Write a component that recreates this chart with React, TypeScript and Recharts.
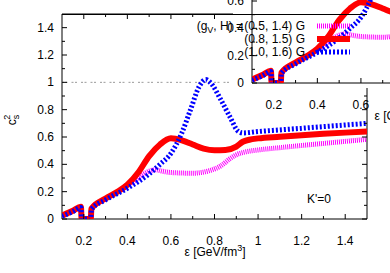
import React from 'react'
import { LineChart, Line, XAxis, YAxis, ReferenceLine, ReferenceArea } from 'recharts'

// energy density (GeV/fm^3) and squared sound speed
const epsMagenta = [0.1, 0.15, 0.187, 0.19, 0.232, 0.235, 0.3, 0.35, 0.4, 0.45, 0.5, 0.53, 0.56, 0.6, 0.7, 0.78, 0.83, 0.87, 0.9, 0.94, 1.0, 1.1, 1.2, 1.3, 1.4, 1.5]
const cs2Magenta = [0.025, 0.06, 0.09, 0, 0, 0.075, 0.15, 0.195, 0.245, 0.3, 0.35, 0.36, 0.35, 0.34, 0.335, 0.355, 0.39, 0.44, 0.47, 0.49, 0.505, 0.522, 0.538, 0.553, 0.568, 0.583]

const epsRed = [0.1, 0.15, 0.187, 0.19, 0.232, 0.235, 0.3, 0.35, 0.4, 0.45, 0.5, 0.55, 0.6, 0.65, 0.7, 0.75, 0.8, 0.85, 0.9, 0.93, 0.96, 1.0, 1.1, 1.2, 1.3, 1.4, 1.5]
const cs2Red = [0.025, 0.06, 0.09, 0, 0, 0.075, 0.15, 0.195, 0.25, 0.34, 0.46, 0.545, 0.59, 0.575, 0.545, 0.515, 0.503, 0.505, 0.53, 0.565, 0.58, 0.59, 0.602, 0.613, 0.623, 0.632, 0.64]

const epsBlue = [0.1, 0.15, 0.187, 0.19, 0.232, 0.235, 0.3, 0.4, 0.5, 0.55, 0.6, 0.65, 0.69, 0.73, 0.76, 0.78, 0.83, 0.87, 0.91, 0.93, 1.0, 1.1, 1.2, 1.3, 1.4, 1.5]
const cs2Blue = [0.02, 0.055, 0.085, 0, 0, 0.07, 0.14, 0.225, 0.33, 0.4, 0.48, 0.63, 0.8, 0.97, 1.02, 1.0, 0.87, 0.75, 0.64, 0.63, 0.64, 0.652, 0.664, 0.676, 0.688, 0.7]

const legendLabels = ['(0.5, 1.4) G', '(0.8, 1.5) G', '(1.0, 1.6) G']

const xTicks = [0.2, 0.3, 0.4, 0.5, 0.6, 0.7, 0.8, 0.9, 1, 1.1, 1.2, 1.3, 1.4]
const xMajor = [0.2, 0.4, 0.6, 0.8, 1, 1.2, 1.4]
const yTicks = [0, 0.1, 0.2, 0.3, 0.4, 0.5, 0.6, 0.7, 0.8, 0.9, 1, 1.1, 1.2, 1.3, 1.4]
const yMajor = [0, 0.2, 0.4, 0.6, 0.8, 1, 1.2, 1.4]

const W = 390
const H = 273
const LEFT = 62
const RIGHT = 367
const TOP = 14
const BOTTOM = 219
const FONT = '"Liberation Sans", Arial, Helvetica, sans-serif'

// inset is the same plot, shifted
const DX = 190
const DY = -136

const zip = (xs: number[], ys: number[]) => xs.map((x, i) => ({ x, y: ys[i] }))

const SERIES = [
  { name: 'magenta', data: zip(epsMagenta, cs2Magenta), color: '#ff00ff', width: 5, dash: '1 1' },
  { name: 'red', data: zip(epsRed, cs2Red), color: '#ff0000', width: 6, dash: undefined },
  { name: 'blue', data: zip(epsBlue, cs2Blue), color: '#0000ff', width: 5, dash: '2 2' }
]

const isMajor = (v: number, list: number[]) => list.some((m) => Math.abs(m - v) < 1e-6)

const XTick = (props: any) => {
  const { x, payload } = props
  const major = isMajor(payload.value, xMajor)
  const len = major ? 5 : 3
  return (
    <g>
      <line x1={x} y1={BOTTOM} x2={x} y2={BOTTOM - len} stroke="#000" />
      <line x1={x} y1={TOP} x2={x} y2={TOP + len} stroke="#000" />
      {major && (
        <text x={x} y={BOTTOM + 26} textAnchor="middle" fontFamily={FONT} fontSize={12} fill="#000">
          {String(payload.value)}
        </text>
      )}
    </g>
  )
}

const YTick = (props: any) => {
  const { y, payload } = props
  const major = isMajor(payload.value, yMajor)
  const len = major ? 5 : 3
  return (
    <g>
      <line x1={LEFT} y1={y} x2={LEFT + len} y2={y} stroke="#000" />
      <line x1={RIGHT} y1={y} x2={RIGHT - len} y2={y} stroke="#000" />
      {major && (
        <text x={LEFT - 8} y={y + 4} textAnchor="end" fontFamily={FONT} fontSize={12} fill="#000">
          {String(payload.value)}
        </text>
      )}
    </g>
  )
}

function Plot() {
  return (
    <div style={{ position: 'relative', width: W, height: H }}>
      <LineChart width={W} height={H} margin={{ top: TOP, right: W - RIGHT, bottom: 24, left: LEFT - 40 }}>
        <XAxis
          type="number"
          dataKey="x"
          domain={[0.1, 1.5]}
          ticks={xTicks}
          interval={0}
          height={30}
          axisLine={false}
          tickLine={false}
          tick={(p: any) => <XTick {...p} />}
          allowDataOverflow
        />
        <YAxis
          type="number"
          domain={[0, 1.5]}
          ticks={yTicks}
          interval={0}
          width={40}
          axisLine={false}
          tickLine={false}
          tick={(p: any) => <YTick {...p} />}
          allowDataOverflow
        />
        <ReferenceLine y={1} stroke="#999" strokeWidth={1} strokeDasharray="2 1.5 2 4" />
        <ReferenceArea x1={0.1} x2={1.5} y1={0} y2={1.5} fill="none" fillOpacity={0} stroke="#000" strokeWidth={1} />
        {SERIES.map((s) => (
          <Line
            key={s.name}
            data={s.data}
            dataKey="y"
            type="monotone"
            stroke={s.color}
            strokeWidth={s.width}
            strokeDasharray={s.dash}
            strokeLinecap="butt"
            dot={false}
            activeDot={false}
            isAnimationActive={false}
          />
        ))}
      </LineChart>
      <svg width={W} height={H} style={{ position: 'absolute', left: 0, top: 0, pointerEvents: 'none' }}>
        <text x={215} y={256} textAnchor="middle" fontFamily={FONT} fontSize={12} fill="#000">
          ε [GeV/fm<tspan dy={-5} fontSize={9}>3</tspan><tspan dy={5}>]</tspan>
        </text>
        <text transform="translate(16,120) rotate(-90)" textAnchor="middle" fontFamily={FONT} fontSize={12} fill="#000">
          c<tspan dy={3} fontSize={9}>s</tspan><tspan dx={-5} dy={-9} fontSize={9}>2</tspan>
        </text>
        <text x={307} y={203} fontFamily={FONT} fontSize={12} fill="#000">K'=0</text>
      </svg>
    </div>
  )
}

export default function App() {
  const rows = [30, 43, 56]
  return (
    <div style={{ position: 'fixed', left: 0, top: 0, width: W, height: H, background: '#fff', overflow: 'hidden' }}>
      <Plot />
      <div style={{ position: 'absolute', left: 233, top: 0, width: W - 233, height: 88, background: '#fff' }} />
      <div
        style={{
          position: 'absolute',
          left: 0,
          top: 0,
          width: W,
          height: H,
          clipPath: 'polygon(222px 0px, 390px 0px, 390px 132px, 222px 132px)'
        }}
      >
        <div style={{ position: 'absolute', left: DX, top: DY }}>
          <Plot />
        </div>
      </div>
      <svg width={W} height={H} style={{ position: 'absolute', left: 0, top: 0, pointerEvents: 'none' }}>
        <line x1={LEFT} y1={TOP + 0.5} x2={RIGHT} y2={TOP + 0.5} stroke="#000" />
        <text x={243} y={rows[0]} textAnchor="end" fontFamily={FONT} fontSize={12} fill="#000">
          (g<tspan dy={3} fontSize={9}>V</tspan><tspan dy={-3}>, H) =</tspan>
        </text>
        {legendLabels.map((t, i) => (
          <text key={t} x={305} y={rows[i]} textAnchor="end" fontFamily={FONT} fontSize={12} fill="#000">
            {t}
          </text>
        ))}
        {SERIES.map((s, i) => (
          <line
            key={s.name}
            x1={317}
            x2={350}
            y1={rows[i] - 4}
            y2={rows[i] - 4}
            stroke={s.color}
            strokeWidth={s.width}
            strokeDasharray={s.dash}
          />
        ))}
      </svg>
    </div>
  )
}
